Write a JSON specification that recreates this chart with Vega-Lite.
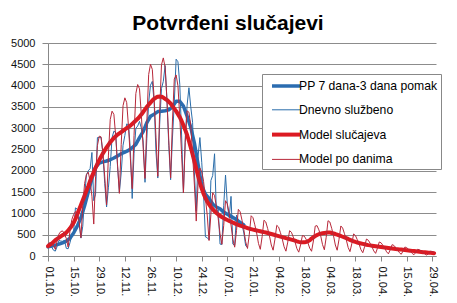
{
"$schema":"https://vega.github.io/schema/vega-lite/v6.json",
"width":388,"height":213,
"autosize":{"type":"none"},
"padding":{"left":48,"top":43,"right":21,"bottom":47},
"background":"white",
"config":{"view":{"stroke":null},"font":"Liberation Sans"},
"title":{"text":"Potvrđeni slučajevi","fontSize":21,"font":"Liberation Sans","fontWeight":"bold","color":"#000","anchor":"middle","offset":3,"dx":-14},
"data":{"values":[
{"t":"2020-10-01","PP 7 dana-3 dana pomak":215,"Dnevno službeno":225,"Model slučajeva":230,"Model po danima":288},
{"t":"2020-10-02","Dnevno službeno":265,"Model slučajeva":260,"Model po danima":312},
{"t":"2020-10-03","PP 7 dana-3 dana pomak":235,"Dnevno službeno":210,"Model slučajeva":290,"Model po danima":290},
{"t":"2020-10-04","Dnevno službeno":135,"Model slučajeva":330,"Model po danima":248},
{"t":"2020-10-05","PP 7 dana-3 dana pomak":255,"Dnevno službeno":115,"Model slučajeva":370,"Model po danima":155},
{"t":"2020-10-06","Dnevno službeno":225,"Model slučajeva":400,"Model po danima":360},
{"t":"2020-10-07","PP 7 dana-3 dana pomak":280,"Dnevno službeno":365,"Model slučajeva":430,"Model po danima":516},
{"t":"2020-10-08","Dnevno službeno":350,"Model slučajeva":460,"Model po danima":575},
{"t":"2020-10-09","PP 7 dana-3 dana pomak":310,"Dnevno službeno":345,"Model slučajeva":490,"Model po danima":588},
{"t":"2020-10-10","Dnevno službeno":365,"Model slučajeva":510,"Model po danima":510},
{"t":"2020-10-11","PP 7 dana-3 dana pomak":350,"Dnevno službeno":180,"Model slučajeva":550,"Model po danima":413},
{"t":"2020-10-12","Dnevno službeno":170,"Model slučajeva":600,"Model po danima":210},
{"t":"2020-10-13","PP 7 dana-3 dana pomak":420,"Dnevno službeno":310,"Model slučajeva":650,"Model po danima":585},
{"t":"2020-10-14","Dnevno službeno":480,"Model slučajeva":710,"Model po danima":852},
{"t":"2020-10-15","PP 7 dana-3 dana pomak":540,"Dnevno službeno":560,"Model slučajeva":780,"Model po danima":975},
{"t":"2020-10-16","Dnevno službeno":1130,"Model slučajeva":870,"Model po danima":1044},
{"t":"2020-10-17","PP 7 dana-3 dana pomak":700,"Dnevno službeno":1100,"Model slučajeva":980,"Model po danima":980},
{"t":"2020-10-18","Dnevno službeno":750,"Model slučajeva":1090,"Model po danima":818},
{"t":"2020-10-19","PP 7 dana-3 dana pomak":900,"Dnevno službeno":420,"Model slučajeva":1200,"Model po danima":430},
{"t":"2020-10-20","Dnevno službeno":700,"Model slučajeva":1310,"Model po danima":1179},
{"t":"2020-10-21","PP 7 dana-3 dana pomak":1180,"Dnevno službeno":1400,"Model slučajeva":1420,"Model po danima":1704},
{"t":"2020-10-22","Dnevno službeno":1900,"Model slučajeva":1530,"Model po danima":1913},
{"t":"2020-10-23","PP 7 dana-3 dana pomak":1500,"Dnevno službeno":2000,"Model slučajeva":1640,"Model po danima":1968},
{"t":"2020-10-24","Dnevno službeno":2050,"Model slučajeva":1760,"Model po danima":1760},
{"t":"2020-10-25","PP 7 dana-3 dana pomak":1820,"Dnevno službeno":2430,"Model slučajeva":1870,"Model po danima":1403},
{"t":"2020-10-26","Dnevno službeno":1300,"Model slučajeva":1970,"Model po danima":750},
{"t":"2020-10-27","PP 7 dana-3 dana pomak":2080,"Dnevno službeno":1450,"Model slučajeva":2070,"Model po danima":1863},
{"t":"2020-10-28","Dnevno službeno":2780,"Model slučajeva":2160,"Model po danima":2592},
{"t":"2020-10-29","PP 7 dana-3 dana pomak":2180,"Dnevno službeno":2780,"Model slučajeva":2250,"Model po danima":2813},
{"t":"2020-10-30","Dnevno službeno":2780,"Model slučajeva":2330,"Model po danima":2796},
{"t":"2020-10-31","PP 7 dana-3 dana pomak":2210,"Dnevno službeno":2420,"Model slučajeva":2410,"Model po danima":2410},
{"t":"2020-11-01","Dnevno službeno":1700,"Model slučajeva":2480,"Model po danima":1860},
{"t":"2020-11-02","PP 7 dana-3 dana pomak":2230,"Dnevno službeno":1150,"Model slučajeva":2550,"Model po danima":1200},
{"t":"2020-11-03","Dnevno službeno":1600,"Model slučajeva":2610,"Model po danima":2349},
{"t":"2020-11-04","PP 7 dana-3 dana pomak":2260,"Dnevno službeno":2100,"Model slučajeva":2670,"Model po danima":3204},
{"t":"2020-11-05","Dnevno službeno":2780,"Model slučajeva":2720,"Model po danima":3400},
{"t":"2020-11-06","PP 7 dana-3 dana pomak":2300,"Dnevno službeno":2930,"Model slučajeva":2770,"Model po danima":3324},
{"t":"2020-11-07","Dnevno službeno":2900,"Model slučajeva":2810,"Model po danima":2810},
{"t":"2020-11-08","PP 7 dana-3 dana pomak":2350,"Dnevno službeno":2100,"Model slučajeva":2850,"Model po danima":2138},
{"t":"2020-11-09","Dnevno službeno":1500,"Model slučajeva":2880,"Model po danima":1470},
{"t":"2020-11-10","PP 7 dana-3 dana pomak":2400,"Dnevno službeno":1950,"Model slučajeva":2910,"Model po danima":2619},
{"t":"2020-11-11","Dnevno službeno":2600,"Model slučajeva":2940,"Model po danima":3528},
{"t":"2020-11-12","PP 7 dana-3 dana pomak":2440,"Dnevno službeno":2830,"Model slučajeva":2970,"Model po danima":3713},
{"t":"2020-11-13","Dnevno službeno":3100,"Model slučajeva":3000,"Model po danima":3600},
{"t":"2020-11-14","PP 7 dana-3 dana pomak":2480,"Dnevno službeno":3080,"Model slučajeva":3030,"Model po danima":3030},
{"t":"2020-11-15","Dnevno službeno":2500,"Model slučajeva":3060,"Model po danima":2295},
{"t":"2020-11-16","PP 7 dana-3 dana pomak":2540,"Dnevno službeno":1350,"Model slučajeva":3100,"Model po danima":1580},
{"t":"2020-11-17","Dnevno službeno":2400,"Model slučajeva":3140,"Model po danima":2826},
{"t":"2020-11-18","PP 7 dana-3 dana pomak":2620,"Dnevno službeno":3000,"Model slučajeva":3180,"Model po danima":3816},
{"t":"2020-11-19","Dnevno službeno":3050,"Model slučajeva":3220,"Model po danima":4025},
{"t":"2020-11-20","PP 7 dana-3 dana pomak":2780,"Dnevno službeno":3160,"Model slučajeva":3270,"Model po danima":3924},
{"t":"2020-11-21","Dnevno službeno":3000,"Model slučajeva":3320,"Model po danima":3320},
{"t":"2020-11-22","PP 7 dana-3 dana pomak":2920,"Dnevno službeno":2700,"Model slučajeva":3380,"Model po danima":2535},
{"t":"2020-11-23","Dnevno službeno":1730,"Model slučajeva":3440,"Model po danima":1820},
{"t":"2020-11-24","PP 7 dana-3 dana pomak":3130,"Dnevno službeno":2760,"Model slučajeva":3500,"Model po danima":3150},
{"t":"2020-11-25","Dnevno službeno":3600,"Model slučajeva":3550,"Model po danima":4260},
{"t":"2020-11-26","PP 7 dana-3 dana pomak":3280,"Dnevno službeno":4010,"Model slučajeva":3600,"Model po danima":4500},
{"t":"2020-11-27","Dnevno službeno":4100,"Model slučajeva":3650,"Model po danima":4380},
{"t":"2020-11-28","PP 7 dana-3 dana pomak":3330,"Dnevno službeno":3600,"Model slučajeva":3690,"Model po danima":3690},
{"t":"2020-11-29","Dnevno službeno":2440,"Model slučajeva":3720,"Model po danima":2790},
{"t":"2020-11-30","PP 7 dana-3 dana pomak":3390,"Dnevno službeno":1830,"Model slučajeva":3740,"Model po danima":1870},
{"t":"2020-12-01","Dnevno službeno":3080,"Model slučajeva":3745,"Model po danima":3371},
{"t":"2020-12-02","PP 7 dana-3 dana pomak":3400,"Dnevno službeno":3930,"Model slučajeva":3740,"Model po danima":4488},
{"t":"2020-12-03","Dnevno službeno":4100,"Model slučajeva":3720,"Model po danima":4650},
{"t":"2020-12-04","PP 7 dana-3 dana pomak":3410,"Dnevno službeno":4470,"Model slučajeva":3690,"Model po danima":4428},
{"t":"2020-12-05","Dnevno službeno":3660,"Model slučajeva":3660,"Model po danima":3660},
{"t":"2020-12-06","PP 7 dana-3 dana pomak":3430,"Dnevno službeno":2590,"Model slučajeva":3620,"Model po danima":2715},
{"t":"2020-12-07","Dnevno službeno":1790,"Model slučajeva":3580,"Model po danima":1830},
{"t":"2020-12-08","PP 7 dana-3 dana pomak":3500,"Dnevno službeno":2770,"Model slučajeva":3520,"Model po danima":3168},
{"t":"2020-12-09","Dnevno službeno":3600,"Model slučajeva":3460,"Model po danima":4152},
{"t":"2020-12-10","PP 7 dana-3 dana pomak":3630,"Dnevno službeno":4620,"Model slučajeva":3400,"Model po danima":4250},
{"t":"2020-12-11","Dnevno službeno":4560,"Model slučajeva":3330,"Model po danima":3996},
{"t":"2020-12-12","PP 7 dana-3 dana pomak":3630,"Dnevno službeno":4030,"Model slučajeva":3260,"Model po danima":3260},
{"t":"2020-12-13","Dnevno službeno":2840,"Model slučajeva":3170,"Model po danima":2378},
{"t":"2020-12-14","PP 7 dana-3 dana pomak":3520,"Dnevno službeno":1490,"Model slučajeva":3070,"Model po danima":1480},
{"t":"2020-12-15","Dnevno službeno":2780,"Model slučajeva":2960,"Model po danima":2664},
{"t":"2020-12-16","PP 7 dana-3 dana pomak":3280,"Dnevno službeno":3540,"Model slučajeva":2840,"Model po danima":3408},
{"t":"2020-12-17","Dnevno službeno":3950,"Model slučajeva":2700,"Model po danima":3375},
{"t":"2020-12-18","PP 7 dana-3 dana pomak":3020,"Dnevno službeno":3500,"Model slučajeva":2550,"Model po danima":3060},
{"t":"2020-12-19","Dnevno službeno":3140,"Model slučajeva":2390,"Model po danima":2390},
{"t":"2020-12-20","PP 7 dana-3 dana pomak":2650,"Dnevno službeno":1950,"Model slučajeva":2220,"Model po danima":1665},
{"t":"2020-12-21","Dnevno službeno":1050,"Model slučajeva":2050,"Model po danima":820},
{"t":"2020-12-22","PP 7 dana-3 dana pomak":2150,"Dnevno službeno":2340,"Model slučajeva":1880,"Model po danima":1692},
{"t":"2020-12-23","Dnevno službeno":2780,"Model slučajeva":1720,"Model po danima":2064},
{"t":"2020-12-24","PP 7 dana-3 dana pomak":1650,"Dnevno službeno":2200,"Model slučajeva":1580,"Model po danima":1975},
{"t":"2020-12-25","Dnevno službeno":1470,"Model slučajeva":1460,"Model po danima":1752},
{"t":"2020-12-26","PP 7 dana-3 dana pomak":1450,"Dnevno službeno":450,"Model slučajeva":1360,"Model po danima":1360},
{"t":"2020-12-27","Dnevno službeno":430,"Model slučajeva":1280,"Model po danima":960},
{"t":"2020-12-28","PP 7 dana-3 dana pomak":1350,"Dnevno službeno":380,"Model slučajeva":1210,"Model po danima":363},
{"t":"2020-12-29","Dnevno službeno":1770,"Model slučajeva":1150,"Model po danima":978},
{"t":"2020-12-30","PP 7 dana-3 dana pomak":1220,"Dnevno službeno":1890,"Model slučajeva":1100,"Model po danima":1485},
{"t":"2020-12-31","Dnevno službeno":2400,"Model slučajeva":1050,"Model po danima":1418},
{"t":"2021-01-01","PP 7 dana-3 dana pomak":1150,"Dnevno službeno":1010,"Model slučajeva":1010,"Model po danima":1162},
{"t":"2021-01-02","Dnevno službeno":1090,"Model slučajeva":975,"Model po danima":878},
{"t":"2021-01-03","PP 7 dana-3 dana pomak":1110,"Dnevno službeno":280,"Model slučajeva":945,"Model po danima":520},
{"t":"2021-01-04","Dnevno službeno":270,"Model slučajeva":915,"Model po danima":275},
{"t":"2021-01-05","PP 7 dana-3 dana pomak":1030,"Dnevno službeno":1180,"Model slučajeva":890,"Model po danima":712},
{"t":"2021-01-06","Dnevno službeno":1900,"Model slučajeva":865,"Model po danima":1298},
{"t":"2021-01-07","PP 7 dana-3 dana pomak":980,"Dnevno službeno":1200,"Model slučajeva":845,"Model po danima":1225},
{"t":"2021-01-08","Dnevno službeno":900,"Model slučajeva":825,"Model po danima":990},
{"t":"2021-01-09","PP 7 dana-3 dana pomak":930,"Dnevno službeno":1400,"Model slučajeva":805,"Model po danima":725},
{"t":"2021-01-10","Dnevno službeno":280,"Model slučajeva":785,"Model po danima":393},
{"t":"2021-01-11","PP 7 dana-3 dana pomak":880,"Dnevno službeno":250,"Model slučajeva":765,"Model po danima":207},
{"t":"2021-01-12","Dnevno službeno":960,"Model slučajeva":745,"Model po danima":596},
{"t":"2021-01-13","PP 7 dana-3 dana pomak":820,"Dnevno službeno":840,"Model slučajeva":730,"Model po danima":1095},
{"t":"2021-01-14","Dnevno službeno":760,"Model slučajeva":715,"Model po danima":1037},
{"t":"2021-01-15","PP 7 dana-3 dana pomak":760,"Dnevno službeno":740,"Model slučajeva":700,"Model po danima":840},
{"t":"2021-01-16","PP 7 dana-3 dana pomak":730,"Dnevno službeno":540,"Model slučajeva":685,"Model po danima":617},
{"t":"2021-01-17","Dnevno službeno":240,"Model slučajeva":670,"Model po danima":335},
{"t":"2021-01-18","Dnevno službeno":200,"Model slučajeva":655,"Model po danima":177},
{"t":"2021-01-19","Model slučajeva":640,"Model po danima":512},
{"t":"2021-01-20","Model slučajeva":630,"Model po danima":945},
{"t":"2021-01-21","Model slučajeva":620,"Model po danima":899},
{"t":"2021-01-22","Model slučajeva":610,"Model po danima":732},
{"t":"2021-01-23","Model slučajeva":600,"Model po danima":540},
{"t":"2021-01-24","Model slučajeva":590,"Model po danima":295},
{"t":"2021-01-25","Model slučajeva":580,"Model po danima":157},
{"t":"2021-01-26","Model slučajeva":570,"Model po danima":456},
{"t":"2021-01-27","Model slučajeva":560,"Model po danima":840},
{"t":"2021-01-28","Model slučajeva":550,"Model po danima":798},
{"t":"2021-01-29","Model slučajeva":540,"Model po danima":648},
{"t":"2021-01-30","Model slučajeva":528,"Model po danima":475},
{"t":"2021-01-31","Model slučajeva":516,"Model po danima":258},
{"t":"2021-02-01","Model slučajeva":504,"Model po danima":136},
{"t":"2021-02-02","Model slučajeva":492,"Model po danima":394},
{"t":"2021-02-03","Model slučajeva":480,"Model po danima":720},
{"t":"2021-02-04","Model slučajeva":468,"Model po danima":679},
{"t":"2021-02-05","Model slučajeva":456,"Model po danima":547},
{"t":"2021-02-06","Model slučajeva":444,"Model po danima":400},
{"t":"2021-02-07","Model slučajeva":432,"Model po danima":216},
{"t":"2021-02-08","Model slučajeva":420,"Model po danima":113},
{"t":"2021-02-09","Model slučajeva":408,"Model po danima":326},
{"t":"2021-02-10","Model slučajeva":396,"Model po danima":594},
{"t":"2021-02-11","Model slučajeva":384,"Model po danima":557},
{"t":"2021-02-12","Model slučajeva":372,"Model po danima":446},
{"t":"2021-02-13","Model slučajeva":360,"Model po danima":324},
{"t":"2021-02-14","Model slučajeva":345,"Model po danima":173},
{"t":"2021-02-15","Model slučajeva":332,"Model po danima":90},
{"t":"2021-02-16","Model slučajeva":325,"Model po danima":260},
{"t":"2021-02-17","Model slučajeva":320,"Model po danima":480},
{"t":"2021-02-18","Model slučajeva":322,"Model po danima":467},
{"t":"2021-02-19","Model slučajeva":330,"Model po danima":396},
{"t":"2021-02-20","Model slučajeva":345,"Model po danima":311},
{"t":"2021-02-21","Model slučajeva":368,"Model po danima":184},
{"t":"2021-02-22","Model slučajeva":410,"Model po danima":111},
{"t":"2021-02-23","Model slučajeva":440,"Model po danima":352},
{"t":"2021-02-24","Model slučajeva":468,"Model po danima":702},
{"t":"2021-02-25","Model slučajeva":492,"Model po danima":713},
{"t":"2021-02-26","Model slučajeva":512,"Model po danima":614},
{"t":"2021-02-27","Model slučajeva":525,"Model po danima":473},
{"t":"2021-02-28","Model slučajeva":535,"Model po danima":268},
{"t":"2021-03-01","Model slučajeva":542,"Model po danima":146},
{"t":"2021-03-02","Model slučajeva":548,"Model po danima":438},
{"t":"2021-03-03","Model slučajeva":552,"Model po danima":828},
{"t":"2021-03-04","Model slučajeva":550,"Model po danima":798},
{"t":"2021-03-05","Model slučajeva":542,"Model po danima":650},
{"t":"2021-03-06","Model slučajeva":530,"Model po danima":477},
{"t":"2021-03-07","Model slučajeva":516,"Model po danima":258},
{"t":"2021-03-08","Model slučajeva":500,"Model po danima":135},
{"t":"2021-03-09","Model slučajeva":485,"Model po danima":388},
{"t":"2021-03-10","Model slučajeva":470,"Model po danima":705},
{"t":"2021-03-11","Model slučajeva":452,"Model po danima":655},
{"t":"2021-03-12","Model slučajeva":435,"Model po danima":522},
{"t":"2021-03-13","Model slučajeva":418,"Model po danima":376},
{"t":"2021-03-14","Model slučajeva":400,"Model po danima":200},
{"t":"2021-03-15","Model slučajeva":380,"Model po danima":103},
{"t":"2021-03-16","Model slučajeva":360,"Model po danima":288},
{"t":"2021-03-17","Model slučajeva":345,"Model po danima":518},
{"t":"2021-03-18","Model slučajeva":330,"Model po danima":479},
{"t":"2021-03-19","Model slučajeva":317,"Model po danima":380},
{"t":"2021-03-20","Model slučajeva":305,"Model po danima":275},
{"t":"2021-03-21","Model slučajeva":295,"Model po danima":148},
{"t":"2021-03-22","Model slučajeva":285,"Model po danima":77},
{"t":"2021-03-23","Model slučajeva":275,"Model po danima":220},
{"t":"2021-03-24","Model slučajeva":265,"Model po danima":398},
{"t":"2021-03-25","Model slučajeva":255,"Model po danima":370},
{"t":"2021-03-26","Model slučajeva":249,"Model po danima":299},
{"t":"2021-03-27","Model slučajeva":243,"Model po danima":219},
{"t":"2021-03-28","Model slučajeva":237,"Model po danima":119},
{"t":"2021-03-29","Model slučajeva":231,"Model po danima":62},
{"t":"2021-03-30","Model slučajeva":225,"Model po danima":180},
{"t":"2021-03-31","Model slučajeva":219,"Model po danima":329},
{"t":"2021-04-01","Model slučajeva":213,"Model po danima":309},
{"t":"2021-04-02","Model slučajeva":207,"Model po danima":248},
{"t":"2021-04-03","Model slučajeva":201,"Model po danima":181},
{"t":"2021-04-04","Model slučajeva":195,"Model po danima":98},
{"t":"2021-04-05","Model slučajeva":189,"Model po danima":51},
{"t":"2021-04-06","Model slučajeva":183,"Model po danima":146},
{"t":"2021-04-07","Model slučajeva":177,"Model po danima":266},
{"t":"2021-04-08","Model slučajeva":171,"Model po danima":248},
{"t":"2021-04-09","Model slučajeva":165,"Model po danima":198},
{"t":"2021-04-10","Model slučajeva":160,"Model po danima":144},
{"t":"2021-04-11","Model slučajeva":155,"Model po danima":78},
{"t":"2021-04-12","Model slučajeva":150,"Model po danima":41},
{"t":"2021-04-13","Model slučajeva":145,"Model po danima":116},
{"t":"2021-04-14","Model slučajeva":140,"Model po danima":210},
{"t":"2021-04-15","Model slučajeva":135,"Model po danima":196},
{"t":"2021-04-16","Model slučajeva":130,"Model po danima":156},
{"t":"2021-04-17","Model slučajeva":125,"Model po danima":113},
{"t":"2021-04-18","Model slučajeva":120,"Model po danima":60},
{"t":"2021-04-19","Model slučajeva":115,"Model po danima":31},
{"t":"2021-04-20","Model slučajeva":110,"Model po danima":88},
{"t":"2021-04-21","Model slučajeva":105,"Model po danima":158},
{"t":"2021-04-22","Model slučajeva":100,"Model po danima":145},
{"t":"2021-04-23","Model slučajeva":95,"Model po danima":114},
{"t":"2021-04-24","Model slučajeva":90,"Model po danima":81},
{"t":"2021-04-25","Model slučajeva":86,"Model po danima":43},
{"t":"2021-04-26","Model slučajeva":82,"Model po danima":22},
{"t":"2021-04-27","Model slučajeva":78,"Model po danima":62},
{"t":"2021-04-28","Model slučajeva":74,"Model po danima":111},
{"t":"2021-04-29","Model slučajeva":70,"Model po danima":102},
{"t":"2021-04-30","Model slučajeva":66,"Model po danima":79}
]},
"transform":[
{"fold":["PP 7 dana-3 dana pomak","Dnevno službeno","Model slučajeva","Model po danima"],"as":["s","v"]},
{"filter":"isValid(datum.v)"}
],
"mark":{"type":"line","strokeJoin":"round","strokeCap":"round"},
"encoding":{
"x":{"field":"t","type":"temporal","scale":{"type":"utc","domain":[{"year":2020,"month":10,"date":1,"utc":true},{"year":2021,"month":5,"date":1,"utc":true}]},
"axis":{"title":null,"labelExpr":"utcFormat(datum.value, '%d.%m.')","values":[
{"year":2020,"month":10,"date":1,"utc":true},{"year":2020,"month":10,"date":15,"utc":true},{"year":2020,"month":10,"date":29,"utc":true},{"year":2020,"month":11,"date":12,"utc":true},{"year":2020,"month":11,"date":26,"utc":true},{"year":2020,"month":12,"date":10,"utc":true},{"year":2020,"month":12,"date":24,"utc":true},{"year":2021,"month":1,"date":7,"utc":true},{"year":2021,"month":1,"date":21,"utc":true},{"year":2021,"month":2,"date":4,"utc":true},{"year":2021,"month":2,"date":18,"utc":true},{"year":2021,"month":3,"date":4,"utc":true},{"year":2021,"month":3,"date":18,"utc":true},{"year":2021,"month":4,"date":1,"utc":true},{"year":2021,"month":4,"date":15,"utc":true},{"year":2021,"month":4,"date":29,"utc":true}],
"labelAngle":90,"labelAlign":"left","labelBaseline":"middle","labelFont":"Liberation Sans","labelFontSize":11,"labelColor":"#111","labelPadding":5,"labelOverlap":false,"labelFlush":false,"labelBound":false,"tickSize":5,"tickColor":"#888","domainColor":"#888","grid":false}},
"y":{"field":"v","type":"quantitative","scale":{"domain":[0,5000],"nice":false},
"axis":{"title":null,"format":"d","values":[0,500,1000,1500,2000,2500,3000,3500,4000,4500,5000],"labelFont":"Liberation Sans","labelFontSize":11,"labelColor":"#111","labelPadding":7,"tickSize":6,"tickColor":"#888","domainColor":"#888","gridColor":"#8c8c8c","grid":true}},
"color":{"field":"s","type":"nominal","scale":{"domain":["PP 7 dana-3 dana pomak","Dnevno službeno","Model slučajeva","Model po danima"],"range":["#2B6CB0","#2A6DAA","#DC1A22","#B8283A"]},
"legend":{"orient":"none","legendX":214,"legendY":31,"title":null,"symbolType":"M-2,0H2","symbolSize":196,"symbolOffset":12,"labelOffset":4,"labelFont":"Liberation Sans","labelFontSize":12.2,"labelColor":"#000","fillColor":"#ffffff","strokeColor":"#888888","padding":3,"rowPadding":9.3}},
"strokeWidth":{"field":"s","type":"nominal","scale":{"type":"ordinal","domain":["PP 7 dana-3 dana pomak","Dnevno službeno","Model slučajeva","Model po danima"],"range":[3.5,1,4,1]},
"legend":{"orient":"none","legendX":214,"legendY":31,"title":null,"symbolType":"M-2,0H2","symbolSize":196,"symbolOffset":12,"labelOffset":4,"labelFont":"Liberation Sans","labelFontSize":12.2,"labelColor":"#000","fillColor":"#ffffff","strokeColor":"#888888","padding":3,"rowPadding":9.3}}
}
}
